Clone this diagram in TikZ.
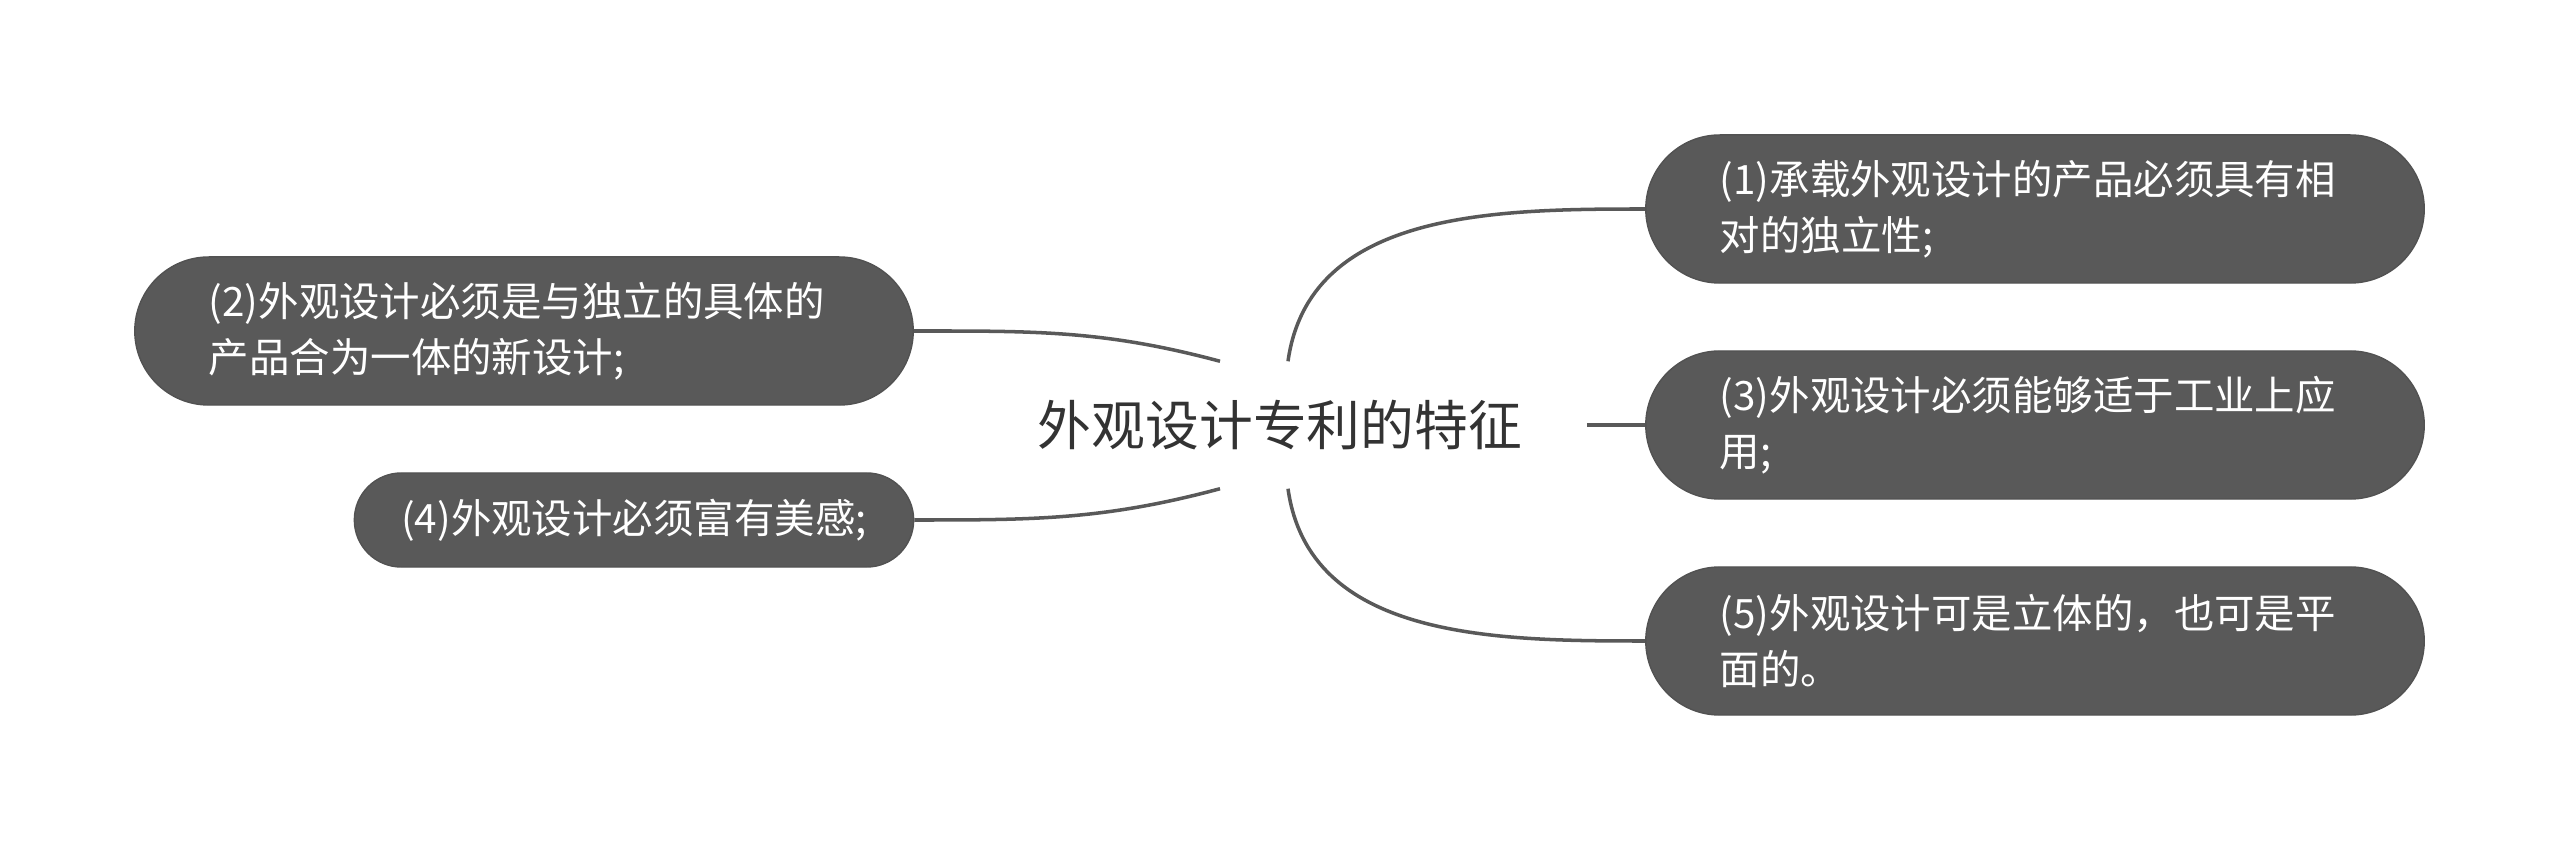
\documentclass[tikz,border=0pt]{standalone}
\usepackage{fontspec}
\newfontfamily\cjk{Noto Sans CJK SC}
\usetikzlibrary{calc}
\definecolor{boxgray}{HTML}{595959}
\definecolor{linkgray}{HTML}{595959}
\definecolor{roottext}{HTML}{333333}
\begin{document}
\begin{tikzpicture}[x=0.01cm,y=0.01cm,line join=bevel,
  leaf/.style={rectangle, rounded corners=0.74cm, fill=boxgray, draw=boxgray!92!black, line width=0.4pt,
    text=white, font=\cjk\fontsize{11.5pt}{15.9pt}\selectfont, align=left, inner xsep=0pt,
    minimum width=7.78cm, minimum height=1.48cm, text width=6.3cm},
  link/.style={draw=linkgray, line width=1pt} ]
\useasboundingbox (0,0) rectangle (2560,-852);
%%
  % Node: root
  \node (root) at (1280,-425) [minimum width=6.12cm, minimum height=1.26cm, inner sep=0pt,
    text=roottext, font=\cjk\fontsize{15.3pt}{18pt}\selectfont] {外观设计专利的特征};
  % Node: b1
  \node (b1) at (2035,-209) [leaf] {(1)承载外观设计的产品必须具有相\\对的独立性;};
  % Node: b2
  \node (b2) at (524,-331) [leaf] {(2)外观设计必须是与独立的具体的\\产品合为一体的新设计;};
  % Node: b3
  \node (b3) at (2035,-425) [leaf] {(3)外观设计必须能够适于工业上应\\用;};
  % Node: b4
  \node (b4) at (634,-520) [leaf, rounded corners=0.47cm, minimum width=5.59cm,
    minimum height=0.94cm, text width=, align=center] {(4)外观设计必须富有美感;};
  % Node: b5
  \node (b5) at (2035,-641) [leaf] {(5)外观设计可是立体的，也可是平\\面的。};
%
  \coordinate (lt) at ($(root.north)+(-60,0)$);
  \coordinate (rt) at ($(root.north)+(8,0)$);
  \coordinate (lb) at ($(root.south)+(-60,0)$);
  \coordinate (rb) at ($(root.south)+(8,0)$);
  % Edge: root -- b1
  \draw [link] (rt) to[out=82,in=180] (b1.west);
  % Edge: root -- b2
  \draw [link] (b2.east) to[out=0,in=165] (lt);
  % Edge: root -- b3
  \draw [link] (root.east) -- (b3.west);
  % Edge: root -- b4
  \draw [link] (b4.east) to[out=0,in=195] (lb);
  % Edge: root -- b5
  \draw [link] (rb) to[out=-82,in=180] (b5.west);
%
\end{tikzpicture}
\end{document}
